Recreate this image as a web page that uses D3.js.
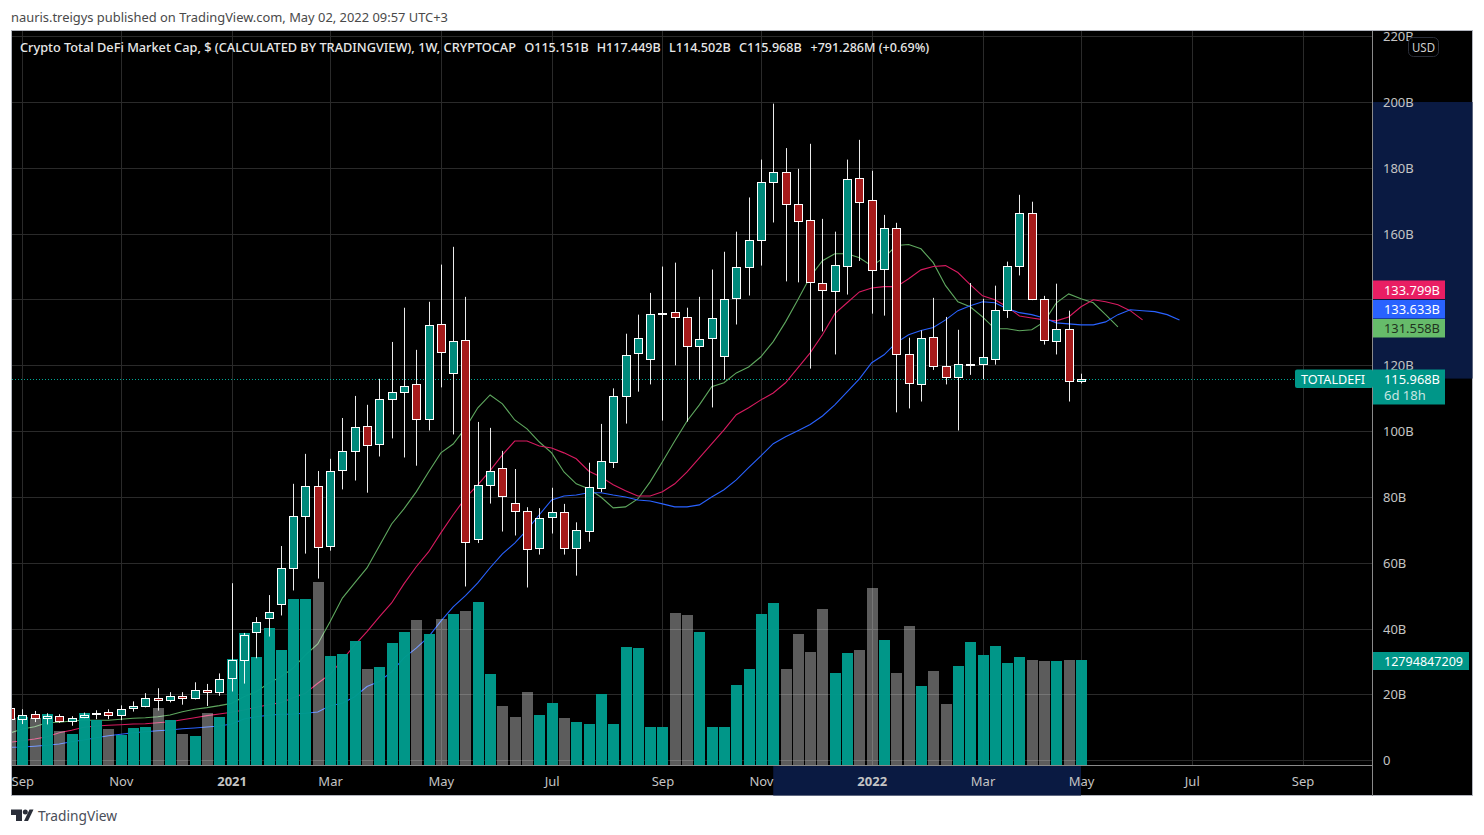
<!DOCTYPE html>
<html><head><meta charset="utf-8">
<script src="https://cdn.jsdelivr.net/npm/d3@7"></script>
<style>html,body{margin:0;padding:0;background:#fff;overflow:hidden}svg{display:block}text{font-family:"Noto Sans",sans-serif}</style>
</head><body><div id="chart"></div>
<script>
// weekly bars, first bar is one week before the "Sep" tick
const openVals=[16,12.5,14,12.8,13.4,11.9,13.1,14,14.6,13.7,15.8,16.4,18.8,18.2,19.5,18.8,21.3,20.7,24.9,30.4,38.9,43.2,47.4,58.4,74.2,83.3,65,88.1,93.9,101.5,96,109.7,111.9,114.3,103.6,132.5,117.6,127.7,67.2,83.6,88.8,78.1,75.7,64.4,73.9,75.4,64.4,69.6,82.8,90.7,110.6,123.7,121.9,135.6,136.2,134.6,125.8,128.3,122.8,140.4,149.8,158,175.7,178.7,169,164.1,145,142.6,150.2,176.9,170.2,149.2,161.7,123.4,114.3,128.6,119.8,116.4,120,120.4,121.9,136.8,150.2,166.3,140.1,127.4,131,115.15];
const closeVals=[12.5,13.9,12.8,13.5,11.9,12.8,13.9,14.3,13.7,15.5,16.4,18.8,18.2,19.5,18.8,21.3,20.7,24.6,30.5,38,42.1,45,58.4,74.2,83.3,64.7,87.8,93.9,101.2,95.7,109.7,111.9,113.7,103.6,132.2,124,127.4,66.3,83.6,87.8,80.2,75.7,64.1,73.6,75.4,64.4,69.9,83,90.9,110.6,123.1,128.3,135.6,135.9,134.6,125.8,128,134.3,140.1,149.8,158,175.7,178.7,169,163.8,145.3,142.9,150.5,176.6,169.6,149,161.7,123.4,114.6,128.3,119.8,116.4,120.4,120.4,122.5,136.8,150.2,166.3,140.1,127.7,131,115.2,115.968];
const highVals=[16.5,15.5,15,14.3,14,13.4,14.5,15.2,15.5,16.7,17.9,20.4,21.9,20.7,20.7,23.7,23.2,26.4,53.8,38.7,43.5,50.2,65.1,84,93.1,87.9,91.6,104,110.7,108,115.9,127.1,137.5,124.7,139.3,150.6,156,140.8,102.8,101,94,88.5,76.9,76.6,82.8,77.9,72.3,90.4,102.2,113,129.6,135.4,142,150,151.2,137.5,140.8,149.1,154.5,160.6,171,182.5,199.5,186,179.7,187.3,164.5,160.6,182.5,188.5,179.1,165.7,163.3,128.4,130.6,140.5,134.7,130.8,145,140.2,144.2,151.5,171.8,169.7,141.1,144.8,136.6,117.449];
const lowVals=[12.2,11,11.6,10.9,11.4,10.5,12.8,12.5,12.5,12.2,14.8,16.1,15.1,17.6,16.9,18.5,16.5,19.6,20.9,23.3,31,37.6,44,51.6,62.8,55.2,63.7,82.3,85,81.3,92.3,97.8,92,89.5,100.2,113.3,99,52.8,66,78,69.5,68.3,52.5,62.5,68.9,62.5,56.1,66.4,81.5,88.8,102.3,112,114.2,103.2,120,102.9,115.7,107.2,115.7,132.4,141.2,150.3,163.4,145.5,145.2,119,130.3,123.3,141.5,151.7,135.7,135.1,105.7,106.9,109,118.6,114.2,100.2,117.1,115.8,120.2,134.4,147.3,139.8,126.3,123.3,109,114.502];
// volume, billions; volumeTeal 1 = teal bar, 0 = grey bar
const volume=[5.73,5.85,5.73,6.26,4.15,3.82,6.38,5.52,4.43,3.7,4.55,4.67,6.99,5.52,3.82,3.57,6.38,5.89,12.93,16.1,13.21,16.74,14.06,20.28,20.28,22.35,13.33,13.57,15.16,11.74,11.99,14.91,16.26,17.72,16.01,17.84,18.45,18.82,19.91,11.13,7.23,5.89,8.94,6.13,7.6,5.77,5.28,5.04,8.7,5.04,14.43,14.3,4.63,4.63,18.54,18.29,16.22,4.63,4.63,9.76,11.71,18.41,19.76,11.71,15.98,13.78,19.02,11.22,13.66,14.02,21.59,15.24,11.22,16.95,9.63,11.46,7.44,12.07,15,13.41,14.51,12.44,13.17,12.8,12.68,12.68,12.8,12.79];
const volumeTeal=[0,1,0,1,0,1,1,1,0,1,1,1,0,1,0,1,0,1,1,1,1,1,1,1,1,0,1,1,1,0,1,1,1,0,1,0,1,0,1,1,0,0,0,1,1,0,1,1,1,1,1,1,1,1,0,0,1,1,1,1,1,1,1,0,0,0,0,1,1,0,0,1,0,0,1,0,0,1,1,1,1,1,1,0,0,1,0,1];
// moving averages, from the first bar onward
const maGreen=[8.3,9.5,10.2,11.4,11.55,11.95,12.16,12.16,12.16,12.46,12.77,12.95,13.25,13.77,14.77,15.5,16,16.6,17.3,19.3,20.85,23.4,25.4,28,32,35.35,42.1,49.3,53.9,58.45,65.1,71.8,76.4,81.55,87.6,93.4,96.1,101,107.1,111,108.3,103.4,100.7,96.7,93.4,87.6,84,82.5,80,76.7,77,79.4,84.6,90.7,97,103.1,108,113.5,114.7,117.7,119.5,122.6,127.2,133.2,139.9,146.9,151.8,153.9,153.9,152.7,150.2,152.7,156.4,156.7,155.4,151.2,144.2,139.3,137.8,134.7,131.1,131.1,130.5,130.8,133.2,139,141.7,140.2,139,135.4,131.7];
const maRed=[5.47,5.96,6.47,7.17,8.39,9.12,10.03,10.43,10.64,10.82,11.03,11.12,11.43,11.73,12.34,12.95,13.56,14.07,14.59,15.29,16.1,16.9,17.51,19.03,20.36,23.4,26.14,30.5,35,39.1,43.6,47.8,53.6,58.8,63.3,69.1,74.6,79.7,83.7,88,92.8,97,97,95.5,94.9,93.4,91.6,87.9,86.1,83.7,81.9,80.3,80.3,81.6,84,87.6,91.9,96.1,100.4,105,107.1,109.5,111.6,114.7,119.2,123.8,129.3,135.7,139,142.3,143.5,143.9,143.9,146.3,149,150,150.3,148.2,144.5,141.1,139.9,137.8,135,134.4,133.8,133.5,134.7,137.8,139.9,139.3,138.4,136.6,133.8];
const maBlue=[3.95,4.04,4.26,4.56,4.95,5.65,6.17,6.87,7.48,7.9,8.39,8.69,9,9.21,9.6,9.82,10.12,10.43,11.03,12.55,13.25,13.68,13.98,14.07,14.29,14.68,16.6,17.33,19.33,22.4,23.9,26.9,31.1,34.1,37.5,42.3,46.6,50,53.9,58.5,62.7,66,70,74.6,79.1,80.3,80.6,81.3,81.3,80.6,80,79.1,78.8,77.9,77,77,77.6,80,82.2,85.2,88.9,92.5,96.2,98.3,100.1,102,104.6,108,111.9,115.9,120.8,123.2,126.9,129.3,130.6,131.5,133.8,136.6,138.1,139.3,139,137.2,136,135.4,134.4,132.9,132.6,132.3,132.3,133.2,135.4,136.9,136.6,136.3,135.4,133.8];
const timeTicks=[{i:0,t:"Sep"},{i:8,t:"Nov"},{i:17,t:"2021",b:1},{i:25,t:"Mar"},{i:34,t:"May"},{i:43,t:"Jul"},{i:52,t:"Sep"},{i:60,t:"Nov"},{i:69,t:"2022",b:1},{i:78,t:"Mar"},{i:86,t:"May"},{i:95,t:"Jul"},{i:104,t:"Sep"}];
const priceTicks=[0,20,40,60,80,100,120,140,160,180,200,220];
const lastOHLC=[["O","115.151B"],["H","117.449B"],["L","114.502B"],["C","115.968B"]];
const lastPrice=115.968;
const maLabels=[{t:"133.799B",c:"#e91e63",f:"#fff"},{t:"133.633B",c:"#2962ff",f:"#fff"},{t:"131.558B",c:"#66bb6a",f:"#1f3320"}];

const W=1484,H=835,L=12,R=1372,T=31,B=765,FR=1473,FB=796;
const firstIdx=-1;
const x=d3.scaleLinear().domain([0,86]).range([22.3,1081]);
const y=d3.scaleLinear().domain([0,200]).range([760.3,102]);
const volY=d3.scaleLinear().domain([0,12.79]).range([765.3,660.3]);
const svg=d3.select("#chart").append("svg").attr("width",W).attr("height",H);
const px=v=>Math.round(v)+.5;

// frame
svg.append("rect").attr("x",11.5).attr("y",30.5).attr("width",FR-12).attr("height",FB-31).attr("fill","#000").attr("stroke","#b2b5be");
// highlight bands on the axes
const navy="#0a1a42";
svg.append("rect").attr("x",R+1).attr("y",y(200)).attr("width",FR-R-1.5).attr("height",y(lastPrice)-y(200)).attr("fill",navy);
svg.append("rect").attr("x",x(61)).attr("y",B+1).attr("width",x(86)-x(61)).attr("height",FB-B-1.5).attr("fill",navy);

svg.append("defs").append("clipPath").attr("id","plot").append("rect").attr("x",L).attr("y",T).attr("width",R-L).attr("height",B-T);
const plot=svg.append("g").attr("clip-path","url(#plot)");

// grid
const grid="#2a2a2a";
plot.selectAll(".hg").data(priceTicks).join("line").attr("x1",L).attr("x2",R).attr("y1",d=>px(y(d))).attr("y2",d=>px(y(d))).attr("stroke",grid);
plot.selectAll(".vg").data(timeTicks).join("line").attr("y1",T).attr("y2",B).attr("x1",d=>px(x(d.i))).attr("x2",d=>px(x(d.i))).attr("stroke",grid);
// last price line
plot.append("line").attr("x1",L).attr("x2",R).attr("y1",px(y(lastPrice))).attr("y2",px(y(lastPrice))).attr("stroke","#00a896").attr("stroke-dasharray","1 2");

// moving averages
const lineOf=d3.line().x((d,k)=>x(k+firstIdx)).y(d=>y(d));
[[maGreen,"#5fa85f"],[maRed,"#d81b60"],[maBlue,"#2962ff"]].forEach(([s,c])=>{
  plot.append("path").attr("d",lineOf(s)).attr("fill","none").attr("stroke",c).attr("stroke-width",1.1);
});

// volume
plot.selectAll(".vol").data(volume).join("rect")
 .attr("x",(d,k)=>Math.round(x(k+firstIdx))-5).attr("width",11)
 .attr("y",d=>Math.round(volY(d))).attr("height",d=>B+.5-Math.round(volY(d)))
 .attr("fill",(d,k)=>volumeTeal[k]?"#009b8c":"#fff").attr("fill-opacity",(d,k)=>volumeTeal[k]?.97:.36);

// candles
const cg=plot.append("g");
openVals.forEach((o,k)=>{
  const c=closeVals[k],cx=px(x(k+firstIdx));
  cg.append("line").attr("x1",cx).attr("x2",cx).attr("y1",y(highVals[k])).attr("y2",y(lowVals[k])).attr("stroke","#fff").attr("stroke-opacity",.92);
  const top=Math.round(y(Math.max(o,c))),bot=Math.round(y(Math.min(o,c)));
  cg.append("rect").attr("x",cx-4).attr("width",8).attr("y",top+.5).attr("height",Math.max(bot-top,1))
   .attr("fill",c>=o?"#00897b":"#a61b1b").attr("stroke","#fff").attr("stroke-width",1);
});

// axis lines
svg.append("line").attr("x1",R+.5).attr("x2",R+.5).attr("y1",31).attr("y2",FB).attr("stroke","#8a8a8a");
svg.append("line").attr("x1",12).attr("x2",R).attr("y1",B+.5).attr("y2",B+.5).attr("stroke","#8a8a8a");

// price axis
const priceAxis=d3.axisRight(y).tickValues(priceTicks).tickSize(0).tickPadding(0).tickFormat(d=>d===0?"0":d+"B");
const ga=svg.append("g").attr("transform","translate(1383,0.5)").call(priceAxis);
ga.select(".domain").remove();
ga.selectAll("text").attr("fill","#c4c4c4").attr("font-size",13).attr("x",0).attr("dy",".3em").style("font-family",'"Noto Sans",sans-serif');
// 140B sits entirely under the moving-average labels in the source
ga.selectAll(".tick").filter(d=>d===140).select("text").remove();

// time axis
const timeAxis=d3.axisBottom(x).tickValues(timeTicks.map(d=>d.i)).tickSize(0).tickPadding(0).tickFormat(i=>timeTicks.find(d=>d.i===i).t);
const gt=svg.append("g").attr("transform","translate(0,776.5)").call(timeAxis);
gt.select(".domain").remove();
gt.selectAll("text").attr("fill","#c4c4c4").attr("font-size",13).attr("dy",".71em").attr("font-weight",i=>timeTicks.find(d=>d.i===i).b?700:400).style("font-family",'"Noto Sans",sans-serif');

// helper for text
function txt(s,xp,yp,o={}){
 const t=svg.append("text").attr("x",xp).attr("y",yp).text(s).attr("fill",o.fill||"#fff").attr("font-size",o.size||13).attr("font-weight",o.weight||400);
 if(o.w){t.attr("textLength",o.w).attr("lengthAdjust","spacingAndGlyphs");}
 return t;
}
// header
txt("nauris.treigys published on TradingView.com, May 02, 2022 09:57 UTC+3",11,21.5,{fill:"#4a4a4a",w:437});
// legend
txt("Crypto Total DeFi Market Cap, $ (CALCULATED BY TRADINGVIEW), 1W, CRYPTOCAP",20,52,{fill:"#e8e8e8",w:496,weight:500});
const legendX=[524.5,596.7,669,739], legendW=[64.3,64,61.7,62.7];
lastOHLC.forEach(([a,b],k)=>{txt(a+b,legendX[k],52,{fill:"#e8e8e8",w:legendW[k],weight:500});});
txt("+791.286M (+0.69%)",810.5,52,{fill:"#e8e8e8",w:118.7,weight:500});

// USD badge
svg.append("rect").attr("x",1408.5).attr("y",37.5).attr("width",30).attr("height",19).attr("rx",5).attr("fill","#000").attr("stroke","#2a2e39");
txt("USD",1423.5,52,{fill:"#d0d0d0",w:23}).attr("text-anchor","middle");

// MA labels
const lblH=18.5;
const lblTop=[280.5,300,319];
maLabels.forEach((m,k)=>{
 svg.append("rect").attr("x",R+1).attr("y",lblTop[k]).attr("width",72).attr("height",lblH).attr("fill",m.c);
 txt(m.t,1384,lblTop[k]+14,{fill:m.f,w:56});
});
// last price label
svg.append("rect").attr("x",1295).attr("y",369.5).attr("width",78).attr("height",18.5).attr("rx",2).attr("fill","#009688");
txt("TOTALDEFI",1301,383.5,{fill:"#fff",w:64});
svg.append("rect").attr("x",R+1).attr("y",369.5).attr("width",72).attr("height",35).attr("fill","#009688");
txt("115.968B",1384,384,{fill:"#fff",w:56});
txt("6d 18h",1384,400,{fill:"#c8e6e2"});
// volume label
svg.append("rect").attr("x",R+1).attr("y",652).attr("width",96).attr("height",18).attr("fill","#009688");
txt("12794847209",1384,665.5,{fill:"#fff",w:79});

// footer logo
svg.append("path").attr("d","M11 809.5H22V821H16V815H11Z").attr("fill","#2a2e39");
svg.append("circle").attr("cx",25.3).attr("cy",812).attr("r",2.5).attr("fill","#2a2e39");
svg.append("path").attr("d","M24 821L29.5 809.5H33.5L28 821Z").attr("fill","#2a2e39");
txt("TradingView",38,821,{fill:"#4a4e59",size:14,w:79});
</script></body></html>
